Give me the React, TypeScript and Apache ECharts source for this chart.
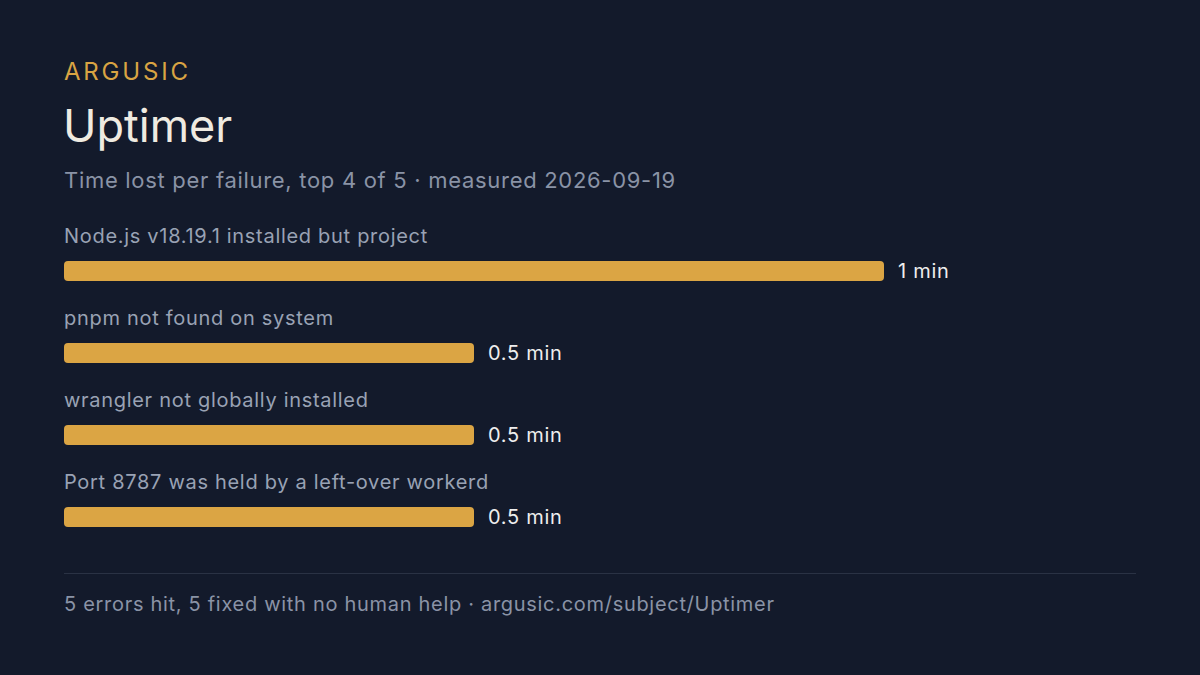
import React, { useEffect, useRef } from "react";
import * as echarts from "echarts";

const brand = "ARGUSIC";
const title = "Uptimer";
const subtitle = "Time lost per failure, top 4 of 5 · measured 2026-09-19";
const footer = "5 errors hit, 5 fixed with no human help · argusic.com/subject/Uptimer";
const categories = [
  "Node.js v18.19.1 installed but project",
  "pnpm not found on system",
  "wrangler not globally installed",
  "Port 8787 was held by a left-over workerd",
];
const minutes = [1, 0.5, 0.5, 0.5];
const unit = "min";

const FONT = "Inter, 'Noto Sans', sans-serif";

const css = `
.uptimer-chart svg text { letter-spacing: 0.7px; }
.uptimer-chart svg text[fill="#d9a443"] { letter-spacing: 2.8px; }
.uptimer-chart svg text[fill="#efebe1"] { letter-spacing: 0px; }
`;

export default function App() {
  const ref = useRef<HTMLDivElement>(null);
  useEffect(() => {
    if (!ref.current) return;
    const chart = echarts.init(ref.current, undefined, { renderer: "svg" });
    chart.setOption({
      animation: false,
      backgroundColor: "#131a2b",
      textStyle: { fontFamily: FONT },
      grid: { left: 64, top: 230, width: 820, height: 328, containLabel: false },
      xAxis: { type: "value", min: 0, max: 1, show: false },
      yAxis: { type: "category", data: categories, inverse: true, show: false },
      series: [
        {
          type: "bar",
          data: minutes,
          barWidth: 20,
          itemStyle: { color: "#dba544", borderRadius: 4 },
          label: {
            show: true,
            position: "right",
            distance: 14,
            color: "#eeeeee",
            fontSize: 20,
            fontFamily: FONT,
            formatter: (p: any) => `${p.value} ${unit}`,
          },
          silent: true,
        },
        {
          type: "bar",
          data: minutes,
          barWidth: 20,
          barGap: "-100%",
          itemStyle: { color: "rgba(0,0,0,0)" },
          label: {
            show: true,
            position: [0, -35],
            align: "left",
            verticalAlign: "top",
            color: "#99a2b4",
            fontSize: 20,
            fontFamily: FONT,
            formatter: (p: any) => p.name,
          },
          silent: true,
          z: 3,
        },
      ],
      graphic: [
        {
          type: "text",
          left: 64,
          top: 59,
          style: { text: brand, fill: "#d9a443", font: `24px ${FONT}` },
        },
        {
          type: "text",
          left: 63,
          top: 103,
          style: { text: title, fill: "#efebe1", font: `45px ${FONT}` },
        },
        {
          type: "text",
          left: 64,
          top: 169,
          style: { text: subtitle, fill: "#8a93a6", font: `22px ${FONT}` },
        },
        {
          type: "line",
          shape: { x1: 64, y1: 573.5, x2: 1136, y2: 573.5 },
          style: { stroke: "#2a3244", lineWidth: 1 },
        },
        {
          type: "text",
          left: 64,
          top: 594,
          style: { text: footer, fill: "#8a93a6", font: `20px ${FONT}` },
        },
      ],
    });
    return () => chart.dispose();
  }, []);
  return (
    <>
      <style>{css}</style>
      <div
        ref={ref}
        className="uptimer-chart"
        style={{ position: "fixed", left: 0, top: 0, width: 1200, height: 675 }}
      />
    </>
  );
}
